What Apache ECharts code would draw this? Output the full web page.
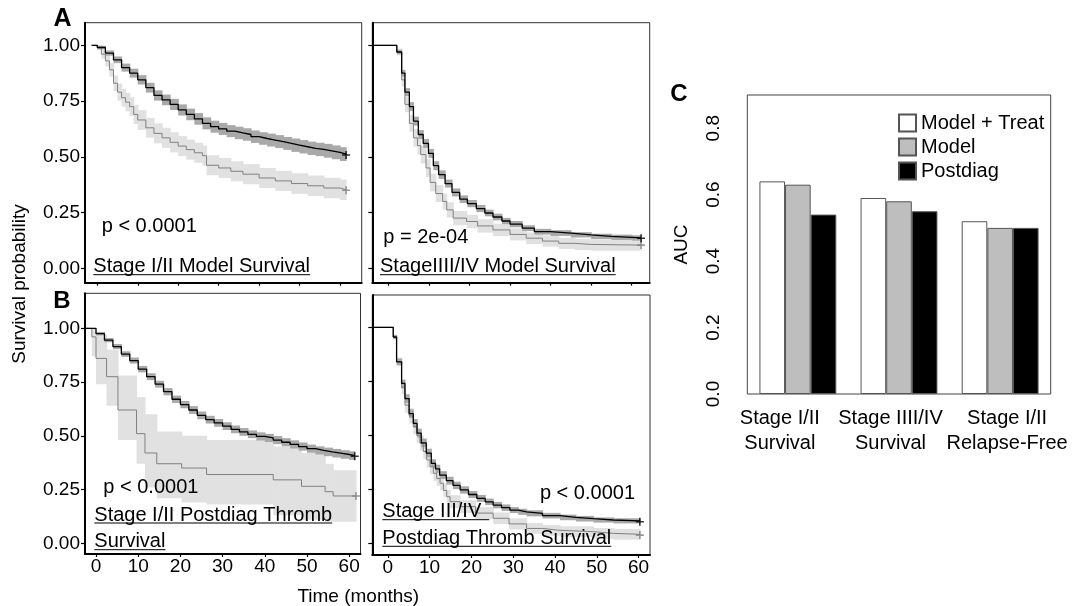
<!DOCTYPE html>
<html>
<head>
<meta charset="utf-8">
<script src="https://cdn.jsdelivr.net/npm/echarts@6/dist/echarts.min.js"></script>
<style>
html, body { margin: 0; padding: 0; background: #fff; }
#chart { width: 1084px; height: 606px; }
</style>
</head>
<body>
<div id="chart"></div>
<script>
var FONT = '"Liberation Sans", Arial, Helvetica, sans-serif';

// tick labels
var survTicks = [0, 0.25, 0.5, 0.75, 1];
var timeTicks = [0, 10, 20, 30, 40, 50, 60];
var aucTicks = [0, 0.2, 0.4, 0.6, 0.8];

// A: Stage I/II model survival (black = low risk, gray = high risk)
var a1BlackT = [-1.4, 0, 2, 4, 6, 8, 10, 12, 14, 16, 18, 20, 22, 24, 26, 28, 30, 32, 34, 36, 38, 40, 42, 44, 46, 48, 50, 52, 54, 56, 58, 60, 61.5];
var a1BlackS = [1.0, 0.99, 0.965, 0.935, 0.90, 0.875, 0.845, 0.81, 0.775, 0.755, 0.735, 0.71, 0.69, 0.67, 0.65, 0.635, 0.625, 0.615, 0.607, 0.60, 0.59, 0.582, 0.575, 0.568, 0.56, 0.552, 0.545, 0.538, 0.533, 0.527, 0.52, 0.512, 0.508];
var a1BlackCI = [0, 0.008, 0.012, 0.015, 0.018, 0.02, 0.021, 0.022, 0.023, 0.024, 0.025, 0.025, 0.026, 0.026, 0.027, 0.027, 0.027, 0.027, 0.028, 0.028, 0.028, 0.028, 0.029, 0.029, 0.029, 0.03, 0.03, 0.03, 0.03, 0.031, 0.031, 0.031, 0.031];
var a1GrayT = [-1.4, 0, 1, 2, 3, 4, 5, 6, 7, 8, 9, 10, 12, 14, 16, 18, 20, 22, 24, 26, 27, 30, 33, 36, 40, 44, 48, 52, 56, 60, 61.5];
var a1GrayS = [1.0, 0.99, 0.96, 0.93, 0.89, 0.83, 0.79, 0.765, 0.745, 0.725, 0.69, 0.665, 0.63, 0.605, 0.585, 0.565, 0.548, 0.532, 0.518, 0.505, 0.462, 0.45, 0.435, 0.422, 0.405, 0.392, 0.38, 0.37, 0.36, 0.352, 0.35];
var a1GrayCI = [0, 0.01, 0.02, 0.025, 0.03, 0.035, 0.038, 0.04, 0.041, 0.042, 0.043, 0.044, 0.044, 0.045, 0.045, 0.045, 0.045, 0.045, 0.045, 0.045, 0.045, 0.045, 0.045, 0.045, 0.045, 0.045, 0.046, 0.046, 0.046, 0.046, 0.046];

// A: Stage III/IV model survival
var a2BlackT = [-3.9, 2.1, 3.3, 4.1, 5.2, 6.2, 7.4, 8.6, 9.9, 11.1, 12.4, 14, 15.7, 17.6, 19.5, 21.7, 23.8, 25.8, 28, 30, 33, 36, 40, 45, 50, 55, 60, 62.3];
var a2BlackS = [1.0, 0.97, 0.875, 0.79, 0.725, 0.66, 0.60, 0.56, 0.515, 0.46, 0.42, 0.38, 0.34, 0.31, 0.29, 0.268, 0.248, 0.23, 0.212, 0.198, 0.18, 0.164, 0.158, 0.15, 0.143, 0.139, 0.136, 0.135];
var a2BlackCI = [0, 0.01, 0.015, 0.018, 0.02, 0.02, 0.02, 0.02, 0.02, 0.02, 0.019, 0.018, 0.018, 0.017, 0.016, 0.016, 0.015, 0.015, 0.014, 0.014, 0.013, 0.013, 0.013, 0.012, 0.012, 0.012, 0.012, 0.012];
var a2GrayT = [-3.9, 2.1, 3.3, 4.1, 5.2, 6.2, 7.2, 8, 9.3, 10.3, 11.7, 13.4, 14.4, 16, 19.3, 22, 25.8, 30, 34, 38, 42, 46, 50, 62.3];
var a2GrayS = [1.0, 0.97, 0.845, 0.735, 0.65, 0.585, 0.55, 0.51, 0.45, 0.385, 0.335, 0.30, 0.262, 0.225, 0.21, 0.19, 0.172, 0.152, 0.135, 0.122, 0.112, 0.107, 0.104, 0.104];
var a2GrayCI = [0, 0.015, 0.03, 0.035, 0.038, 0.04, 0.04, 0.04, 0.04, 0.04, 0.038, 0.036, 0.034, 0.032, 0.03, 0.03, 0.028, 0.027, 0.026, 0.025, 0.025, 0.025, 0.025, 0.025];

// B: Stage I/II postdiag thromb survival
var b1BlackT = [-2.4, 0, 2, 4, 6, 8, 10, 12, 14, 16, 18, 20, 22, 24, 26, 28, 30, 32, 34, 36, 38, 40, 42, 44, 46, 48, 50, 52, 54, 56, 58, 60, 61.3];
var b1BlackS = [1.0, 0.975, 0.945, 0.915, 0.88, 0.85, 0.81, 0.775, 0.74, 0.705, 0.67, 0.645, 0.62, 0.595, 0.575, 0.56, 0.545, 0.53, 0.518, 0.507, 0.497, 0.49, 0.48, 0.47, 0.46, 0.45, 0.44, 0.432, 0.425, 0.419, 0.413, 0.408, 0.405];
var b1BlackCI = [0, 0.008, 0.01, 0.012, 0.013, 0.014, 0.015, 0.016, 0.016, 0.017, 0.017, 0.017, 0.018, 0.018, 0.018, 0.018, 0.018, 0.018, 0.018, 0.018, 0.019, 0.019, 0.019, 0.019, 0.019, 0.019, 0.019, 0.019, 0.02, 0.02, 0.02, 0.02, 0.02];
var b1GrayT = [-2.4, -1, 0, 2.5, 5.2, 9.6, 11.6, 14.4, 20.3, 26.2, 42, 48.7, 54.3, 56.2, 61.6];
var b1GrayS = [1.0, 0.96, 0.86, 0.775, 0.62, 0.51, 0.42, 0.37, 0.35, 0.32, 0.295, 0.265, 0.24, 0.22, 0.22];
var b1GrayLo = [1.0, 0.87, 0.74, 0.64, 0.48, 0.37, 0.26, 0.21, 0.19, 0.18, 0.13, 0.11, 0.10, 0.10, 0.10];
var b1GrayHi = [1.0, 1.0, 0.97, 0.90, 0.78, 0.68, 0.60, 0.52, 0.50, 0.48, 0.45, 0.42, 0.37, 0.34, 0.34];

// B: Stage III/IV postdiag thromb survival
var b2BlackT = [-3.7, 1.3, 2.1, 3.3, 4.1, 5.1, 6.1, 7.0, 8.0, 9.2, 10.4, 11.4, 12.4, 14, 15.6, 17.3, 19.3, 21.3, 23.3, 25.2, 27.2, 29.2, 31.2, 33.2, 37, 41.2, 45, 49.2, 54, 60.3];
var b2BlackS = [1.0, 0.955, 0.84, 0.74, 0.67, 0.60, 0.555, 0.51, 0.465, 0.418, 0.37, 0.345, 0.316, 0.29, 0.268, 0.247, 0.226, 0.208, 0.192, 0.177, 0.165, 0.154, 0.146, 0.139, 0.128, 0.12, 0.114, 0.108, 0.104, 0.10];
var b2BlackCI = [0, 0.01, 0.015, 0.018, 0.02, 0.02, 0.02, 0.02, 0.02, 0.02, 0.019, 0.019, 0.018, 0.018, 0.017, 0.017, 0.016, 0.016, 0.015, 0.015, 0.015, 0.014, 0.014, 0.014, 0.013, 0.013, 0.013, 0.012, 0.012, 0.012];
var b2GrayT = [-3.7, 1.3, 2.1, 3.3, 4.1, 5.1, 6.1, 6.9, 7.7, 8.5, 9.3, 10.1, 10.9, 11.7, 12.5, 13.3, 14.1, 14.9, 17.3, 21, 25.2, 29, 33.2, 37, 41.2, 49.2, 54, 60.3];
var b2GrayS = [1.0, 0.955, 0.84, 0.72, 0.64, 0.59, 0.54, 0.50, 0.463, 0.425, 0.386, 0.355, 0.324, 0.30, 0.278, 0.245, 0.216, 0.193, 0.17, 0.14, 0.116, 0.09, 0.069, 0.06, 0.054, 0.046, 0.042, 0.038];
var b2GrayCI = [0, 0.01, 0.02, 0.03, 0.035, 0.035, 0.035, 0.035, 0.035, 0.035, 0.035, 0.035, 0.035, 0.034, 0.033, 0.032, 0.031, 0.03, 0.03, 0.028, 0.027, 0.026, 0.025, 0.025, 0.025, 0.025, 0.025, 0.025];

// C: AUC bars
var aucGroups = ['Stage I/II\nSurvival', 'Stage IIII/IV\nSurvival', 'Stage I/II\nRelapse-Free'];
var aucModelTreat = [0.64, 0.59, 0.52];
var aucModel = [0.63, 0.58, 0.50];
var aucPostdiag = [0.54, 0.55, 0.50];

var BLACK_BAND = '#a9a9a9';
var GRAY_BAND = '#e1e1e1';
var GRAY_LINE = '#808080';

function lower(s, ci) { return s.map(function (v, i) { return Math.max(0, v - ci[i]); }); }
function upper(s, ci) { return s.map(function (v, i) { return Math.min(1, v + ci[i]); }); }

// confidence band: one rect per step [t0, t1, lo, hi]
function band(idx, t, lo, hi, color) {
    var data = [];
    for (var i = 0; i < t.length - 1; i++) data.push([t[i], t[i + 1], lo[i], hi[i]]);
    return {
        type: 'custom', xAxisIndex: idx, yAxisIndex: idx, silent: true, animation: false,
        encode: { x: [0, 1], y: [2, 3] },
        renderItem: function (params, api) {
            var a = api.coord([api.value(0), api.value(3)]);
            var b = api.coord([api.value(1), api.value(2)]);
            return { type: 'rect',
                shape: { x: a[0], y: a[1], width: b[0] - a[0] + 0.6, height: b[1] - a[1] },
                style: { fill: color } };
        },
        data: data
    };
}
function curve(idx, t, s, color, width) {
    return { type: 'line', xAxisIndex: idx, yAxisIndex: idx, step: 'end', symbol: 'none',
        silent: true, animation: false, lineStyle: { color: color, width: width },
        data: t.map(function (x, i) { return [x, s[i]]; }) };
}
function censor(idx, t, s, color) {
    var n = t.length - 1;
    return { type: 'scatter', xAxisIndex: idx, yAxisIndex: idx, silent: true, animation: false,
        symbol: 'path://M4,0H6V4H10V6H6V10H4V6H0V4H4Z', symbolSize: 8, z: 3,
        itemStyle: { color: color }, data: [[t[n], s[n]]] };
}
function panel(idx, bt, bs, blo, bhi, gt, gs, glo, ghi) {
    return [band(idx, gt, glo, ghi, GRAY_BAND), band(idx, bt, blo, bhi, BLACK_BAND),
        curve(idx, gt, gs, GRAY_LINE, 1), curve(idx, bt, bs, '#000', 1.3),
        censor(idx, gt, gs, GRAY_LINE), censor(idx, bt, bs, '#000')];
}

var series = [].concat(
    panel(0, a1BlackT, a1BlackS, lower(a1BlackS, a1BlackCI), upper(a1BlackS, a1BlackCI),
        a1GrayT, a1GrayS, lower(a1GrayS, a1GrayCI), upper(a1GrayS, a1GrayCI)),
    panel(1, a2BlackT, a2BlackS, lower(a2BlackS, a2BlackCI), upper(a2BlackS, a2BlackCI),
        a2GrayT, a2GrayS, lower(a2GrayS, a2GrayCI), upper(a2GrayS, a2GrayCI)),
    panel(2, b1BlackT, b1BlackS, lower(b1BlackS, b1BlackCI), upper(b1BlackS, b1BlackCI),
        b1GrayT, b1GrayS, b1GrayLo, b1GrayHi),
    panel(3, b2BlackT, b2BlackS, lower(b2BlackS, b2BlackCI), upper(b2BlackS, b2BlackCI),
        b2GrayT, b2GrayS, lower(b2GrayS, b2GrayCI), upper(b2GrayS, b2GrayCI))
);

var barBorder = { borderColor: '#555', borderWidth: 1 };
series.push(
    { name: 'Model + Treat', type: 'bar', xAxisIndex: 4, yAxisIndex: 4, data: aucModelTreat,
      barGap: '0%', barCategoryGap: '24%', itemStyle: Object.assign({ color: '#ffffff' }, barBorder) },
    { name: 'Model', type: 'bar', xAxisIndex: 4, yAxisIndex: 4, data: aucModel,
      barGap: '0%', barCategoryGap: '24%', itemStyle: Object.assign({ color: '#bebebe' }, barBorder) },
    { name: 'Postdiag', type: 'bar', xAxisIndex: 4, yAxisIndex: 4, data: aucPostdiag,
      barGap: '0%', barCategoryGap: '24%', itemStyle: Object.assign({ color: '#000000' }, barBorder) }
);

// panel boxes: [left, top, width, height], axis extents
var boxes = [
    { left: 85, top: 22.7, width: 276.7, height: 260, x: [-3.04, 65.36], y: [-0.0646, 1.1013], yLab: true, xLab: false },
    { left: 372.3, top: 22.7, width: 277.4, height: 260, x: [-3.94, 64.43], y: [-0.0646, 1.1013], yLab: false, xLab: false },
    { left: 85, top: 293.3, width: 275.5, height: 260.7, x: [-2.61, 62.68], y: [-0.0498, 1.1628], yLab: true, xLab: true },
    { left: 372.3, top: 295, width: 277.7, height: 260, x: [-3.71, 62.73], y: [-0.054, 1.1495], yLab: false, xLab: true }
];

var grid = [], xAxis = [], yAxis = [];
boxes.forEach(function (b) {
    grid.push({ left: b.left, top: b.top, width: b.width, height: b.height,
        show: true, borderColor: '#333', borderWidth: 1, containLabel: false });
    xAxis.push({ type: 'value', gridIndex: grid.length - 1, min: b.x[0], max: b.x[1],
        splitLine: { show: false },
        axisLine: { onZero: false, lineStyle: { color: '#000', width: 2 } },
        axisTick: { customValues: timeTicks, length: 3, lineStyle: { color: '#000', width: 1.2 } },
        axisLabel: { show: b.xLab, customValues: timeTicks, margin: 3, color: '#000',
            fontSize: 19, fontFamily: FONT } });
    yAxis.push({ type: 'value', gridIndex: grid.length - 1, min: b.y[0], max: b.y[1],
        splitLine: { show: false },
        axisLine: { onZero: false, lineStyle: { color: '#000', width: 2 } },
        axisTick: { customValues: survTicks, length: 4, lineStyle: { color: '#000', width: 1.2 } },
        axisLabel: { show: b.yLab, customValues: survTicks, margin: 5, color: '#000',
            fontSize: 19, fontFamily: FONT,
            formatter: function (v) { return v.toFixed(2); } } });
});

grid.push({ left: 747.3, top: 95, width: 303.4, height: 299, show: true,
    borderColor: '#444', borderWidth: 1, containLabel: false });
xAxis.push({ type: 'category', gridIndex: 4, data: aucGroups,
    axisLine: { show: false }, axisTick: { show: false },
    axisLabel: { interval: 0, margin: 12, color: '#000', fontSize: 20, lineHeight: 25, fontFamily: FONT,
        formatter: function (v, i) {
            return v.split('\n').map(function (l) { return '{g' + i + '|' + l + '}'; }).join('\n');
        },
        rich: {
            g0: { fontSize: 20, lineHeight: 25, fontFamily: FONT, color: '#000', padding: [0, 36, 0, 0] },
            g1: { fontSize: 20, lineHeight: 25, fontFamily: FONT, color: '#000', padding: [0, 17, 0, 0] },
            g2: { fontSize: 20, lineHeight: 25, fontFamily: FONT, color: '#000', padding: [0, 0, 0, 14] }
        } } });
yAxis.push({ type: 'value', gridIndex: 4, min: 0, max: 0.9,
    name: 'AUC', nameLocation: 'middle', nameRotate: 90, nameGap: 56,
    nameTextStyle: { fontSize: 19, color: '#000', fontFamily: FONT },
    splitLine: { show: false }, axisLine: { show: false },
    axisTick: { customValues: aucTicks, length: 15, lineStyle: { color: '#888', width: 1 } },
    axisLabel: { customValues: aucTicks, rotate: 90, margin: 24, color: '#000', fontSize: 19,
        fontFamily: FONT, formatter: function (v) { return v.toFixed(1); } } });

// text annotations
var ctx = document.createElement('canvas').getContext('2d');
function textWidth(str, size) { ctx.font = size + 'px ' + FONT; return ctx.measureText(str).width; }
function txt(str, x, y, size, opt) {
    opt = opt || {};
    return { type: 'text', x: x, y: y, rotation: opt.rotation || 0, silent: true, z: 10,
        style: { text: str, fontSize: size, fontFamily: FONT, fontWeight: opt.bold ? 'bold' : 'normal',
            fill: '#000', align: opt.align || 'left', verticalAlign: 'middle' } };
}
function uline(str, x, y, extra) {
    var w = textWidth(str, 20) + (extra || 0);
    return { type: 'line', silent: true, z: 10, shape: { x1: x, y1: y + 8, x2: x + w, y2: y + 8 },
        style: { stroke: '#000', lineWidth: 1 } };
}
function title(str, x, y, extra) { return [txt(str, x, y, 20), uline(str, x, y, extra)]; }

var graphic = [].concat(
    [txt('A', 62.5, 19, 25, { bold: true, align: 'center' }),
     txt('B', 62, 301, 24, { bold: true, align: 'center' }),
     txt('C', 679, 94, 24, { bold: true, align: 'center' }),
     txt('Survival probability', 20, 284, 19, { rotation: Math.PI / 2, align: 'center' }),
     txt('Time (months)', 358.3, 596.7, 19, { align: 'center' }),
     txt('p < 0.0001', 101.7, 226, 20),
     txt('p = 2e-04', 383.3, 237.3, 20),
     txt('p < 0.0001', 103.3, 487.3, 20),
     txt('p < 0.0001', 635, 493.3, 20, { align: 'right' })],
    title('Stage I/II Model Survival', 93.3, 266.7),
    title('StageIIII/IV Model Survival', 380, 266.7),
    title('Stage I/II Postdiag Thromb', 94.3, 515),
    title('Survival', 94.3, 541.7),
    title('Stage III/IV', 382.3, 511.7, 8),
    title('Postdiag Thromb Survival', 382.3, 538.3)
);

var chart = echarts.init(document.getElementById('chart'), null, { renderer: 'canvas' });
chart.setOption({
    backgroundColor: '#fff',
    animation: false,
    textStyle: { fontFamily: FONT },
    grid: grid,
    xAxis: xAxis,
    yAxis: yAxis,
    legend: { data: ['Model + Treat', 'Model', 'Postdiag'], orient: 'vertical', left: 893, top: 108,
        itemWidth: 17, itemHeight: 17, itemGap: 4, icon: 'rect', selectedMode: false,
        textStyle: { fontSize: 20, color: '#000', fontFamily: FONT } },
    series: series,
    graphic: graphic
});
</script>
</body>
</html>
